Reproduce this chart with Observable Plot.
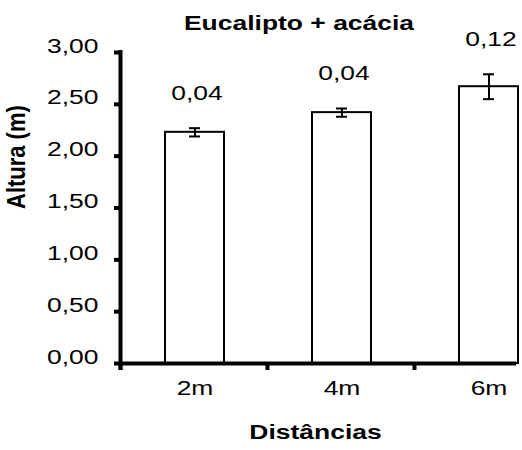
<!DOCTYPE html>
<html><head><meta charset="utf-8">
<script src="https://cdn.jsdelivr.net/npm/d3@7"></script>
<script src="https://cdn.jsdelivr.net/npm/@observablehq/plot@0.6"></script>
<style>body{margin:0;background:#fff;overflow:hidden}</style>
</head><body><div id="chart"></div>
<script>
const title = "Eucalipto + acácia";
const xLabel = "Distâncias";
const yLabel = "Altura (m)";
const categories = ["2m", "4m", "6m"];
const heights = [2.23, 2.42, 2.67];
const errors = [0.04, 0.04, 0.12];
const yTicks = [0, 0.5, 1, 1.5, 2, 2.5, 3];

const data = categories.map((c, i) => ({cat: c, v: heights[i], e: errors[i]}));
const fmt = d => d.toFixed(2).replace(".", ",");
const font = "'Liberation Sans', Arial, sans-serif";
const stretch = 1.26;
const W = 522, H = 450, mL = 120, mR = 6, mT = 52, mB = 87;
const step = 147;
const edge = -step / 2 - 1;

const plot = Plot.plot({
  width: W, height: H, marginLeft: mL, marginRight: mR, marginTop: mT, marginBottom: mB,
  style: {fontFamily: font, fontSize: "21px", color: "#000", background: "#fff"},
  x: {domain: categories, type: "band", range: [mL + 0.5, mL + 0.5 + 3 * step], paddingInner: 0.6, paddingOuter: 0.3, align: 0.5},
  y: {domain: [0, 3]},
  marks: [
    Plot.barY(data, {x: "cat", y: "v", fill: "#fff", stroke: "#000", strokeWidth: 2}),
    Plot.ruleX(data, {x: "cat", y1: d => d.v - d.e, y2: d => d.v + d.e, stroke: "#000", strokeWidth: 2}),
    Plot.tickY(data, {x: "cat", y: d => d.v + d.e, insetLeft: 24, insetRight: 24, stroke: "#000", strokeWidth: 2}),
    Plot.tickY(data, {x: "cat", y: d => d.v - d.e, insetLeft: 24, insetRight: 24, stroke: "#000", strokeWidth: 2}),
    Plot.text(data, {x: "cat", y: d => d.v + d.e, text: d => fmt(d.e), dx: 2, dy: -28, fontSize: 21, fill: "#000"}),
    Plot.ruleY([0], {stroke: "#000", strokeWidth: 4}),
    Plot.tickX(data.slice(0, 1), {x: "cat", dx: edge, stroke: "#000", strokeWidth: 4, insetBottom: -7, insetTop: -2}),
    Plot.axisY(yTicks, {tickSize: 6, strokeWidth: 4, stroke: "#000", tickPadding: 16, tickFormat: fmt, fontSize: 21, label: null}),
    Plot.axisX({tickSize: 7, strokeWidth: 4, stroke: "#000", dx: edge, tickFormat: () => "", label: null}),
    Plot.text(categories, {x: d => d, frameAnchor: "bottom", dy: 31.5, fontSize: 21, fill: "#000"}),
    Plot.text([title], {frameAnchor: "top", dx: -19.5, dy: -22.3, fontWeight: "bold", fontSize: 21, fill: "#000"}),
    Plot.text([xLabel], {frameAnchor: "bottom", dx: -3, dy: 75.5, fontWeight: "bold", fontSize: 21, fill: "#000"}),
    Plot.text([yLabel], {frameAnchor: "left", dx: -96, dy: 1, rotate: -90, fontWeight: "bold", fontSize: 22, fill: "#000"})
  ]
});

// the reference picture is stretched horizontally: widen each text accordingly
plot.querySelectorAll("text").forEach(t => {
  const x = +t.getAttribute("x") || 0, y = +t.getAttribute("y") || 0;
  t.removeAttribute("x"); t.removeAttribute("y");
  const tr = t.getAttribute("transform") || "";
  const rotated = /rotate/.test(tr);
  t.setAttribute("transform", `${tr} translate(${x},${y}) scale(${rotated ? `1,1.2` : `${stretch},1`})`);
});

document.getElementById("chart").appendChild(plot);
</script>
</body></html>
